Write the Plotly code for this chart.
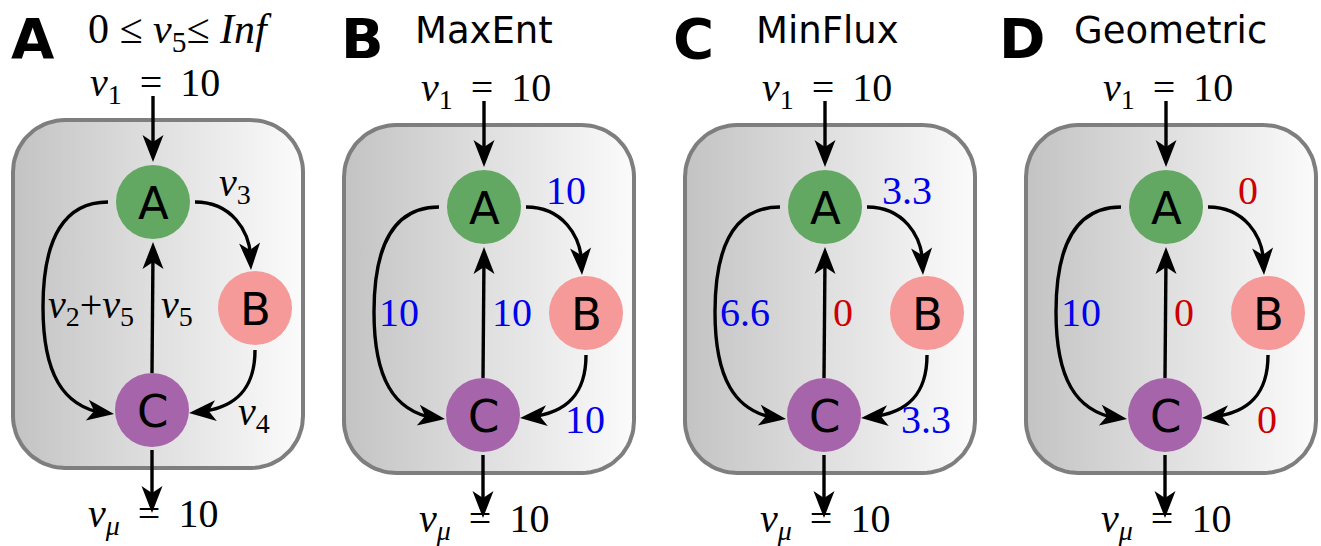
import numpy as np
import plotly.graph_objects as go

# ---- data ---------------------------------------------------------------
panel_letters = ["A", "B", "C", "D"]
panel_titles = ["0 ≤ <i>v</i><sub>5</sub>≤ <i>Inf</i>", "MaxEnt", "MinFlux", "Geometric"]
uptake_v1 = 10
growth_vmu = 10

# symbolic fluxes of the generic network (panel A)
sym_v3 = "<i>v</i><sub>3</sub>"
sym_v2v5 = "<i>v</i><sub>2</sub>+<i>v</i><sub>5</sub>"
sym_v5 = "<i>v</i><sub>5</sub>"
sym_v4 = "<i>v</i><sub>4</sub>"

# flux solutions per method (panels B-D)
methods = ["MaxEnt", "MinFlux", "Geometric"]
flux_v3 = [10, 3.3, 0]      # A -> B
flux_v2v5 = [10, 6.6, 10]   # A -> C (outer loop)
flux_v5 = [10, 0, 0]        # C -> A
flux_v4 = [10, 3.3, 0]      # B -> C

# ---- layout constants -----------------------------------------------------
W, H = 1321, 546
origins = [(153, 202), (484, 207), (825, 207), (1166, 207)]   # centre of node A
title_dx = [27, 0, 2, 4]
letter_x = [33, 362, 693, 1022]
R_NODE = 37
node_off = {"A": (0, 0), "B": (102, 106), "C": (-1, 208)}
node_col = {"A": "#62a862", "B": "#f59a98", "C": "#a664ab"}
BLUE, RED = "#0000ee", "#cc0000"
MATH = "Liberation Serif"
SANS = "DejaVu Sans"
MSIZE = 40
LW = 3.4
EQ = " \u2009=\u2009 "

fig = go.Figure()
shapes, annos = [], []


def rounded_rect(x0, y0, x1, y1, r, n=20):
    pts = []
    corners = [(x1 - r, y0 + r, -90, 0), (x1 - r, y1 - r, 0, 90),
               (x0 + r, y1 - r, 90, 180), (x0 + r, y0 + r, 180, 270)]
    for cx, cy, a0, a1 in corners:
        t = np.radians(np.linspace(a0, a1, n))
        pts += list(zip(cx + r * np.cos(t), cy + r * np.sin(t)))
    pts.append(pts[0])
    xs, ys = zip(*pts)
    return list(xs), list(ys)


def head(tip, d, L=27, Wd=21, notch=7):
    u = np.array(d, float)
    u /= np.linalg.norm(u)
    nrm = np.array([-u[1], u[0]])
    t = np.array(tip, float)
    back = t - L * u
    p1 = back + nrm * Wd / 2
    p2 = t - (L - notch) * u
    p3 = back - nrm * Wd / 2
    path = "M {:.1f} {:.1f} L {:.1f} {:.1f} L {:.1f} {:.1f} L {:.1f} {:.1f} Z".format(
        t[0], t[1], p1[0], p1[1], p2[0], p2[1], p3[0], p3[1])
    return dict(type="path", path=path, fillcolor="black", line=dict(width=0),
                xref="x", yref="y", layer="above")


def curve(path):
    return dict(type="path", path=path, line=dict(color="black", width=LW),
                xref="x", yref="y", layer="above")


def label(text, x, y, color="black", size=MSIZE, font=MATH, xanchor="center"):
    annos.append(dict(text=text, x=x, y=y, xref="x", yref="y", showarrow=False,
                      xanchor=xanchor, yanchor="middle",
                      font=dict(family=font, size=size, color=color)))


def fmt(v):
    return f"{v:g}"


for i, (ox, oy) in enumerate(origins):
    P = lambda dx, dy: (ox + dx, oy + dy)

    # compartment box with horizontal grey gradient
    bx, by = rounded_rect(ox - 140, oy - 82, ox + 150, oy + 266, 52)
    fig.add_trace(go.Scatter(
        x=bx, y=by, mode="lines", fill="toself",
        line=dict(color="#7e7e7e", width=4),
        fillgradient=dict(type="horizontal", start=ox - 140, stop=ox + 150,
                          colorscale=[[0, "#c3c3c3"], [0.4, "#dadada"], [1, "#fbfbfb"]]),
        hoverinfo="skip", showlegend=False))

    # straight arrows: uptake, C -> A, growth
    ax, ay = P(0, 0)
    cx, cy = P(*node_off["C"])
    shapes.append(curve(f"M {ax} {oy - 106} L {ax} {oy - 50}"))
    shapes.append(head((ax, oy - 40), (0, 1)))
    shapes.append(curve(f"M {cx} {cy - R_NODE} L {ax} {oy + 50}"))
    shapes.append(head((ax, oy + 40), (0, -1)))
    shapes.append(curve(f"M {cx} {cy + R_NODE + 3} L {cx} {oy + 300}"))
    shapes.append(head((cx, oy + 311), (0, 1)))

    # outer loop A -> C
    p = [P(-45, 0), P(-88, 0), P(-110, 35), P(-110, 105),
         P(-110, 172), P(-90, 204), P(-50, 211)]
    shapes.append(curve("M {} {} C {} {}, {} {}, {} {} C {} {}, {} {}, {} {}".format(
        *[c for q in p for c in q])))
    shapes.append(head(P(-39, 212), (48, 7)))

    # A -> B
    p = [P(42, 0), P(78, 0), P(97, 28), P(98, 58)]
    shapes.append(curve("M {} {} C {} {}, {} {}, {} {}".format(*[c for q in p for c in q])))
    shapes.append(head(P(98, 68), (2, 38)))

    # B -> C
    p = [P(102, 148), P(102, 186), P(84, 206), P(46, 210)]
    shapes.append(curve("M {} {} C {} {}, {} {}, {} {}".format(*[c for q in p for c in q])))
    shapes.append(head(P(36, 211), (-46, 4)))

    # nodes
    for name, (dx, dy) in node_off.items():
        x, y = P(dx, dy)
        shapes.append(dict(type="circle", x0=x - R_NODE, x1=x + R_NODE,
                           y0=y - R_NODE, y1=y + R_NODE, xref="x", yref="y",
                           fillcolor=node_col[name], line=dict(width=0), layer="above"))
        label(name, x, y + 1, size=45, font=SANS)

    # panel letter and title
    annos.append(dict(text=f"<b>{panel_letters[i]}</b>", x=letter_x[i], y=38,
                      xref="x", yref="y", showarrow=False,
                      font=dict(family=SANS, size=56, color="black")))
    if i == 0:
        label(panel_titles[i], ox + title_dx[i], 32, size=42)
    else:
        label(panel_titles[i], ox + title_dx[i], 30, size=37, font=SANS)

    # boundary fluxes
    label(f"<i>v</i><sub>1</sub>{EQ}{uptake_v1}", ox + 2, oy - 117)
    label(f"<i>v</i><sub><i>μ</i></sub>{EQ}{growth_vmu}", ox, oy + 314)

    # internal fluxes
    if i == 0:
        vals = [(sym_v3, "black"), (sym_v2v5, "black"), (sym_v5, "black"), (sym_v4, "black")]
    else:
        k = i - 1
        vals = [(fmt(v), BLUE if v != 0 else RED)
                for v in (flux_v3[k], flux_v2v5[k], flux_v5[k], flux_v4[k])]
    label(vals[0][0], ox + 82, oy - 17, vals[0][1])
    label(vals[1][0], ox - 107, oy + 105, vals[1][1], xanchor="left")
    label(vals[2][0], ox + 6, oy + 105, vals[2][1], xanchor="left")
    label(vals[3][0], ox + 101, oy + 212, vals[3][1])

fig.update_layout(
    width=W, height=H, margin=dict(l=0, r=0, t=0, b=0),
    paper_bgcolor="white", plot_bgcolor="white",
    xaxis=dict(range=[0, W], visible=False, fixedrange=True),
    yaxis=dict(range=[H, 0], visible=False, fixedrange=True),
    shapes=shapes, annotations=annos, showlegend=False,
)
fig.write_html("out.html")
